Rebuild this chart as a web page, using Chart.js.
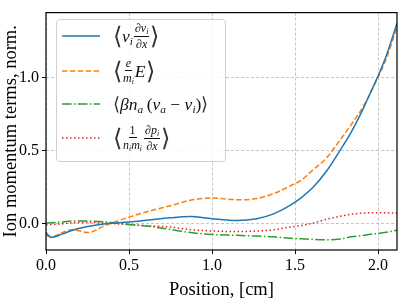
<!DOCTYPE html>
<html>
<head>
<meta charset="utf-8">
<script src="https://cdn.jsdelivr.net/npm/chart.js@4/dist/chart.umd.min.js"></script>
<style>
  html, body { margin: 0; padding: 0; background: #fff; }
  #wrap { position: relative; width: 407px; height: 305px; }
  #legend {
    position: absolute; left: 56px; top: 19px; width: 168px; height: 141px;
    border: 1px solid #d0d0d0; border-radius: 4px; background: rgba(255,255,255,0.85);
    font-family: "Liberation Serif", "DejaVu Serif", serif; font-style: italic; color: #111;
  }
  .item { position: absolute; left: 5px; height: 30px; display: flex; align-items: center; white-space: nowrap; }
  .item svg { width: 38px; height: 6px; margin-right: 13px; flex: none; }
  .br { font-style: normal; font-family: "DejaVu Sans", serif; font-size: 24px; font-weight: 200; line-height: 1; color: #333; }
  .frac { display: inline-flex; flex-direction: column; align-items: center; font-size: 12px; line-height: 1; margin: 0 1px; }
  .frac > span:first-child { border-bottom: 0.8px solid #111; padding: 0 1px 1px; }
  .frac > span:last-child { padding-top: 1px; }
  .t { font-size: 17.5px; }
  sub { font-size: 0.65em; vertical-align: -0.25em; }
</style>
</head>
<body>
<div id="wrap">
  <canvas id="chart" width="407" height="305"></canvas>
  <div id="legend"></div>
</div>
<script>
const positions = [0, 0.03, 0.1, 0.16, 0.25, 0.36, 0.5, 0.62, 0.75, 0.87, 1.0, 1.15, 1.27, 1.37, 1.47, 1.54, 1.61, 1.69, 1.77, 1.84, 1.91, 1.97, 2.0, 2.05, 2.114]
const convective = [-0.06, -0.094, -0.07, -0.045, -0.02, 0.0, 0.011, 0.025, 0.04, 0.049, 0.034, 0.022, 0.034, 0.067, 0.125, 0.18, 0.25, 0.36, 0.5, 0.63, 0.785, 0.935, 1.01, 1.15, 1.37]
const electric = [-0.08, -0.09, -0.06, -0.04, -0.061, -0.011, 0.045, 0.085, 0.123, 0.16, 0.175, 0.164, 0.172, 0.205, 0.258, 0.3, 0.37, 0.45, 0.57, 0.68, 0.8, 0.93, 1.0, 1.13, 1.345]
const collisions = [0.004, 0.006, 0.012, 0.018, 0.018, 0.012, -0.005, -0.018, -0.04, -0.061, -0.074, -0.08, -0.085, -0.09, -0.1, -0.103, -0.108, -0.11, -0.105, -0.09, -0.08, -0.07, -0.067, -0.058, -0.045]
const pressure = [-0.007, -0.006, 0.0, 0.006, 0.009, 0.004, -0.007, -0.015, -0.023, -0.041, -0.05, -0.054, -0.05, -0.042, -0.023, -0.012, 0.005, 0.03, 0.05, 0.065, 0.072, 0.075, 0.074, 0.074, 0.072]

const xTicks = [0, 0.5, 1.0, 1.5, 2.0]
const yTicks = [0, 0.5, 1.0]

const labelsHtml = [
  '<span class="br">⟨</span><span class="t">v<sub>i</sub></span><span class="frac"><span>∂v<sub>i</sub></span><span>∂x</span></span><span class="br">⟩</span>',
  '<span class="br">⟨</span><span class="frac"><span>e</span><span>m<sub>i</sub></span></span><span class="t">E</span><span class="br">⟩</span>',
  '<span class="br" style="font-size:18px">⟨</span><span class="t">βn<sub>a</sub>&thinsp;<span style="font-style:normal">(</span>v<sub>a</sub> <span style="font-style:normal">−</span> v<sub>i</sub><span style="font-style:normal">)</span></span><span class="br" style="font-size:18px">⟩</span>',
  '<span class="br">⟨</span><span class="frac"><span style="font-style:normal">1</span><span>n<sub>i</sub>m<sub>i</sub></span></span><span class="frac"><span>∂p<sub>i</sub></span><span>∂x</span></span><span class="br">⟩</span>'
]

const serif = '"Liberation Serif", "DejaVu Serif", serif'
const series = [
  { data: convective, color: '#1f77b4', dash: [] },
  { data: electric, color: '#ff7f0e', dash: [5.5, 2.4] },
  { data: collisions, color: '#2ca02c', dash: [9.6, 2.4, 1.5, 2.4] },
  { data: pressure, color: '#d62728', dash: [1.5, 2.5] }
]

const frame = {
  id: 'frame',
  afterDraw (chart) {
    const a = chart.chartArea
    const ctx = chart.ctx
    ctx.save()
    ctx.strokeStyle = '#000'
    ctx.lineWidth = 1.2
    ctx.strokeRect(a.left, a.top, a.right - a.left, a.bottom - a.top)
    ctx.restore()
  }
}

const chart = new Chart('chart', {
  type: 'line',
  data: {
    datasets: series.map(s => ({
      data: s.data.map((v, i) => ({ x: positions[i], y: v })),
      borderColor: s.color,
      borderDash: s.dash,
      borderWidth: 1.5,
      pointRadius: 0,
      cubicInterpolationMode: 'monotone',
      fill: false
    }))
  },
  options: {
    responsive: false,
    animation: false,
    devicePixelRatio: 1,
    layout: { padding: { left: 0, right: 10, top: 9, bottom: 0 } },
    plugins: { legend: { display: false }, tooltip: { enabled: false } },
    scales: {
      x: {
        type: 'linear',
        min: 0,
        max: 2.114,
        afterBuildTicks: scale => { scale.ticks = xTicks.map(v => ({ value: v })) },
        afterFit: scale => { scale.height = 55 },
        ticks: { color: '#000', font: { family: serif, size: 16 }, padding: 2, maxRotation: 0, callback: v => v.toFixed(1) },
        grid: { color: '#b8b8b8', lineWidth: 0.8, tickColor: '#000', tickLength: 4, tickWidth: 1 },
        border: { display: false, dash: [3, 2] },
        title: { display: true, text: 'Position, [cm]', color: '#000', font: { family: serif, size: 18.5 }, padding: { top: 0, bottom: 4 } }
      },
      y: {
        min: -0.18,
        max: 1.443,
        afterBuildTicks: scale => { scale.ticks = yTicks.map(v => ({ value: v })) },
        afterFit: scale => { scale.width = 46 },
        ticks: { color: '#000', font: { family: serif, size: 16 }, padding: 3, callback: v => v.toFixed(1) },
        grid: { color: '#b8b8b8', lineWidth: 0.8, tickColor: '#000', tickLength: 4, tickWidth: 1 },
        border: { display: false, dash: [3, 2] },
        title: { display: true, text: 'Ion momentum terms, norm.', color: '#000', font: { family: serif, size: 18.5 }, padding: { top: 0, bottom: 0 } }
      }
    }
  },
  plugins: [frame]
})

// html legend built from the datasets
const legend = document.getElementById('legend')
const rowTops = [1, 36, 69, 103]
chart.data.datasets.forEach((ds, i) => {
  const item = document.createElement('div')
  item.className = 'item'
  item.style.top = rowTops[i] + 'px'
  item.innerHTML = `<svg viewBox="0 0 38 6"><line x1="0" y1="3" x2="38" y2="3" stroke="${ds.borderColor}" stroke-width="1.5" stroke-dasharray="${ds.borderDash.join(' ') || 'none'}"/></svg>` + labelsHtml[i]
  legend.appendChild(item)
})
</script>
</body>
</html>
